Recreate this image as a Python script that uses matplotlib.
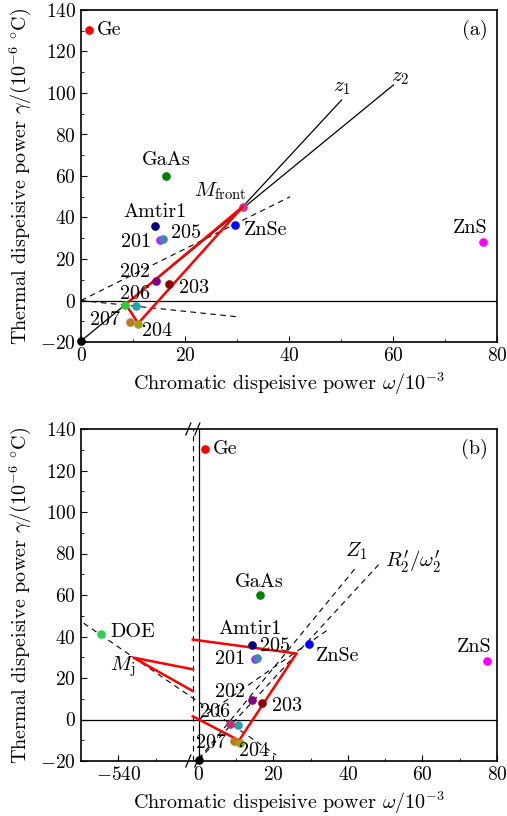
import numpy as np
import matplotlib
matplotlib.use('Agg')
import matplotlib.pyplot as plt

plt.rcParams.update({
    'font.family': ['cmr10', 'DejaVu Serif'],
    'mathtext.fontset': 'cm',
    'axes.formatter.use_mathtext': True,
    'font.size': 14,
    'xtick.direction': 'in',
    'ytick.direction': 'in',
    'xtick.major.size': 4.5,
    'ytick.major.size': 4.5,
    'xtick.minor.size': 2.5,
    'ytick.minor.size': 2.5,
    'axes.linewidth': 1.2,
})

# ---- materials (omega in 1e-3, gamma in 1e-6/C) ----
names = ['Ge', 'GaAs', 'Amtir1', '201', '205', 'ZnSe', 'ZnS', '202', '203', '206', '207', '204']
omega = [1.6, 16.3, 14.3, 15.1, 15.7, 29.6, 77.4, 14.4, 16.9, 10.6, 9.4, 11.0]
gamma = [130.3, 59.8, 36.1, 29.1, 29.5, 36.3, 28.2, 9.5, 8.1, -2.8, -10.2, -11.1]
colors = ['#ff0000', '#008000', '#000080', '#9b30ff', '#4682b4', '#0000ff', '#ff00ff',
          '#800080', '#8b0000', '#2aa0a8', '#b87a2a', '#a0a010']

origin_pt = (0.0, -19.5)
vertex_pt = (8.5, -2.2)
mfront_pt = (31.1, 45.2)
doe_pt = (-544.7, 41.2)

# panel (a) lines
z2_om = [0.0, 60.1]
z2_ga = [-19.5, 103.9]
z1_om = [31.1, 50.1]
z1_ga = [45.2, 96.6]
da1_om = [0.0, 40.2]
da1_ga = [0.0, 50.0]
da2_om = [0.0, 29.9]
da2_ga = [0.0, -7.8]
tri_om = [8.6, 11.0, 31.1, 8.6]
tri_ga = [-1.8, -11.0, 45.2, -1.8]

# panel (b) lines
doe_ln_om = [-549.3, 20.7]
doe_ln_ga = [46.4, -17.1]
Z1_om = [0.0, 42.0]
Z1_ga = [-19.0, 72.9]
R2_om = [0.0, 49.0]
R2_ga = [-19.5, 76.1]
lb_om = [0.0, 34.6]
lb_ga = [0.0, 43.2]
red_om = [-1.6, 26.2, 10.8, -1.6]
red_ga = [38.5, 31.8, -10.1, 1.5]
mj_om = [-520.0, -535.9, -520.0]
mj_ga = [24.2, 29.8, 13.7]

# broken x axis for panel (b)
BRK_L = -520.0
BRK_R = -1.6


def fwd(x):
    return np.interp(x, [-1e4, BRK_L, BRK_R, 1e4],
                     [-1e4 - BRK_L + BRK_R, BRK_R, BRK_R + 1e-3, 1e4])


def inv(u):
    return np.interp(u, [-1e4 - BRK_L + BRK_R, BRK_R, BRK_R + 1e-3, 1e4],
                     [-1e4, BRK_L, BRK_R, 1e4])


dash = (0, (5, 4))
LBL = 14.5
TCK = 14

fig = plt.figure(figsize=(5.07, 8.16), dpi=100)
ax1 = fig.add_axes([81 / 507, 1 - 342 / 816, 416 / 507, 332 / 816])
ax2 = fig.add_axes([81 / 507, 1 - 761 / 816, 416 / 507, 332 / 816])

ylab = r'Thermal dispeisive power $\gamma/(10^{-6}\ {}^{\circ}\mathrm{C})$'
xlab = r'Chromatic dispeisive power $\omega/10^{-3}$'

# label offsets in pixels (dx, dy, ha)
offs_a = {'Ge': (8, 0, 'left'), 'GaAs': (0, 16, 'center'), 'Amtir1': (0, 14, 'center'),
          '201': (-8, -2, 'right'), '205': (8, 6, 'left'), 'ZnSe': (9, -5, 'left'),
          'ZnS': (4, 14, 'right'), '202': (-6, 9, 'right'), '203': (10, -4, 'left'),
          '206': (-1, 12, 'center'), '207': (-10, 2, 'right'), '204': (4, -8, 'left')}
offs_b = {'Ge': (8, 0, 'left'), 'GaAs': (0, 13, 'center'), 'Amtir1': (-2, 16, 'center'),
          '201': (-10, 0, 'right'), '205': (3, 12, 'left'), 'ZnSe': (7, -12, 'left'),
          'ZnS': (4, 14, 'right'), '202': (-7, 8, 'right'), '203': (10, -3, 'left'),
          '206': (-8, 13, 'right'), '207': (-8, -2, 'right'), '204': (-1, -9, 'left')}


def draw_points(ax, offs, vcolor):
    for n, x, y, c in zip(names, omega, gamma, colors):
        ax.plot(x, y, 'o', color=c, ms=5.2, zorder=5)
        dx, dy, ha = offs[n]
        ax.annotate(n, (x, y), xytext=(dx, dy), textcoords='offset pixels',
                    ha=ha, va='center', fontsize=LBL, zorder=6)
    ax.plot(*vertex_pt, 'o', color=vcolor, ms=5.2, zorder=5)
    ax.plot(*origin_pt, 'o', color='k', ms=5.2, zorder=5, clip_on=False)


# ---------------- panel (a) ----------------
ax = ax1
ax.axhline(0, color='k', lw=0.9, zorder=1)
ax.plot(z2_om, z2_ga, color='k', lw=0.9, zorder=2)
ax.plot(z1_om, z1_ga, color='k', lw=0.9, zorder=2)
ax.plot(da1_om, da1_ga, color='k', lw=0.8, ls=dash, zorder=2)
ax.plot(da2_om, da2_ga, color='k', lw=0.8, ls=dash, zorder=2)
ax.plot(tri_om, tri_ga, color='red', lw=1.8, zorder=4)
draw_points(ax, offs_a, '#33cc33')
ax.plot(*mfront_pt, 'o', color='#cc3399', ms=5.2, zorder=3)
ax.annotate(r'$M_{\rm front}$', mfront_pt, xytext=(4, 15), textcoords='offset pixels',
            ha='right', va='center', fontsize=15)
ax.annotate(r'$z_1$', (z1_om[1], z1_ga[1]), xytext=(0, 12), textcoords='offset pixels',
            ha='center', va='center', fontsize=15)
ax.annotate(r'$z_2$', (z2_om[1], z2_ga[1]), xytext=(7, 7), textcoords='offset pixels',
            ha='center', va='center', fontsize=15)
ax.text(0.978, 0.94, '(a)', transform=ax.transAxes, ha='right', va='center', fontsize=LBL)
ax.set_xlim(0, 80)
ax.set_ylim(-20, 140)
ax.set_xticks(np.arange(0, 81, 20))
ax.set_xticks(np.arange(10, 80, 20), minor=True)
ax.set_yticks(np.arange(-20, 141, 20))
ax.set_yticks(np.arange(-10, 140, 20), minor=True)
ax.set_xlabel(xlab, fontsize=LBL, labelpad=4)
ax.set_ylabel(ylab, fontsize=LBL, labelpad=5)
ax.tick_params(labelsize=TCK)

# ---------------- panel (b) ----------------
ax = ax2
ax.set_xscale('function', functions=(fwd, inv))
ax.axhline(0, color='k', lw=0.9, zorder=1)
ax.axvline(0, color='k', lw=0.9, zorder=1)
ax.plot([BRK_R, BRK_R], [-20, 140], color='k', lw=0.8, ls=dash, zorder=2)
ax.plot(doe_ln_om, doe_ln_ga, color='k', lw=0.8, ls=dash, zorder=2)
ax.plot(Z1_om, Z1_ga, color='k', lw=0.8, ls=dash, zorder=2)
ax.plot(R2_om, R2_ga, color='k', lw=0.8, ls=dash, zorder=2)
ax.plot(lb_om, lb_ga, color='k', lw=0.8, ls=dash, zorder=2)
ax.plot(red_om, red_ga, color='red', lw=1.8, zorder=4)
ax.plot(mj_om, mj_ga, color='red', lw=1.8, zorder=4)
draw_points(ax, offs_b, '#c03078')
ax.plot(*doe_pt, 'o', color='#33cc55', ms=5.2, zorder=5)
ax.annotate('DOE', doe_pt, xytext=(10, 2), textcoords='offset pixels',
            ha='left', va='center', fontsize=LBL)
ax.annotate(r'$M_{\rm j}$', (mj_om[1], mj_ga[1]), xytext=(2, -9), textcoords='offset pixels',
            ha='right', va='center', fontsize=15)
ax.annotate(r'$Z_1$', (Z1_om[1], Z1_ga[1]), xytext=(1, 17), textcoords='offset pixels',
            ha='center', va='center', fontsize=15)
ax.annotate(r"$R_2'/\omega_2'$", (R2_om[1], R2_ga[1]), xytext=(4, 0), textcoords='offset pixels',
            ha='left', va='center', fontsize=15)
ax.text(0.978, 0.94, '(b)', transform=ax.transAxes, ha='right', va='center', fontsize=LBL)
ax.set_xlim(-550, 80)
ax.set_ylim(-20, 140)
ax.set_xticks([-540, 0, 20, 40, 60, 80])
ax.set_xticks([-530, 10, 30, 50, 70], minor=True)
ax.set_yticks(np.arange(-20, 141, 20))
ax.set_yticks(np.arange(-10, 140, 20), minor=True)
ax.set_xlabel(xlab, fontsize=LBL, labelpad=4)
ax.set_ylabel(ylab, fontsize=LBL, labelpad=5)
ax.tick_params(labelsize=TCK)

# break marks
u0 = fwd(-550.0)
fb = (BRK_R - u0) / (80 - u0)
ddx = 2.5 / 416
ddy = 6.0 / 332
for fx in (fb - 4.5 / 416, fb + 4.5 / 416):
    for fy in (0.0, 1.0):
        ax.plot([fx - ddx, fx + ddx], [fy - ddy, fy + ddy], color='k', lw=0.9,
                transform=ax.transAxes, clip_on=False, zorder=6)

fig.savefig('out.png', dpi=100)
